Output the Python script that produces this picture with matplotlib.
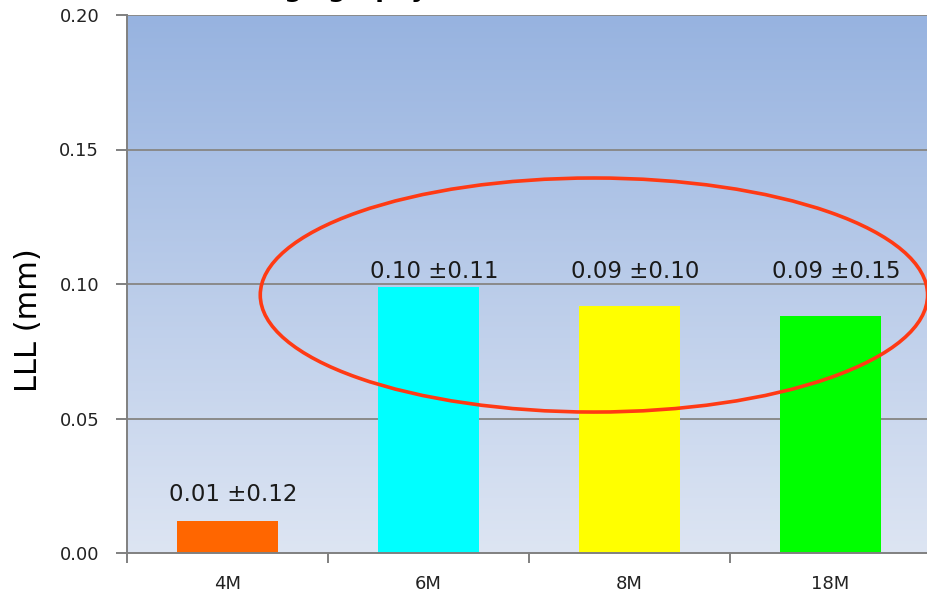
import numpy as np
import matplotlib
matplotlib.use("Agg")
import matplotlib.pyplot as plt
from matplotlib.patches import Ellipse
from matplotlib.colors import LinearSegmentedColormap

# late lumen loss per follow-up time point
groups = ["4M", "6M", "8M", "18M"]
lll_mean = [0.012, 0.099, 0.092, 0.088]
lll_sd = [0.12, 0.11, 0.10, 0.15]
bar_colors = ["#ff6600", "#00ffff", "#ffff00", "#00ff00"]

fig = plt.figure(figsize=(9.27, 5.96), dpi=100)
ax = fig.add_axes([127 / 927, 43 / 596, 804 / 927, 538 / 596])

x = np.arange(len(groups))
ax.set_xlim(-0.5, len(groups) - 0.5)
ax.set_ylim(0, 0.20)

# vertical blue-to-pale gradient behind the bars
grad = LinearSegmentedColormap.from_list("bg", ["#dde5f3", "#97b3e0"])
ax.imshow(np.linspace(0, 1, 256).reshape(-1, 1), cmap=grad, aspect="auto",
          extent=[-0.5, len(groups) - 0.5, 0, 0.20], origin="lower", zorder=0)

for yv in [0.05, 0.10, 0.15, 0.20]:
    ax.axhline(yv, color="#8a8a8a", lw=1.4, zorder=1)

ax.bar(x, lll_mean, width=0.5, color=bar_colors, zorder=2)

# labels of the circled groups share one baseline just above the 0.10 line
for i, (xi, m, s) in enumerate(zip(x, lll_mean, lll_sd)):
    ly = m + 0.0055 if i == 0 else 0.1005
    ax.text(xi + 0.03, ly, f"{m:.2f} \u00b1{s:.2f}", ha="center", va="bottom",
            fontsize=16.5, color="#1a1a1a", zorder=3)

# highlight the later follow-up groups
ax.add_patch(Ellipse((1.823, 0.0959), 3.32, 0.087, fill=False, edgecolor="#ff3a14",
                     lw=2.6, zorder=4, clip_on=False))

ax.set_yticks([0.00, 0.05, 0.10, 0.15, 0.20])
ax.set_yticklabels(["0.00", "0.05", "0.10", "0.15", "0.20"])
ax.set_xticks(x)
ax.set_xticklabels(groups)
ax.set_xticks(np.arange(-0.5, len(groups), 1.0), minor=True)
ax.tick_params(axis="x", which="major", length=0, pad=16, labelsize=13, labelcolor="#222222")
ax.tick_params(axis="x", which="minor", length=7, width=1.4, color="#808080")
ax.tick_params(axis="y", length=8, width=1.4, color="#808080", pad=12,
               labelsize=13, labelcolor="#222222")

for side in ["top", "right"]:
    ax.spines[side].set_visible(False)
for side in ["left", "bottom"]:
    ax.spines[side].set_color("#808080")
    ax.spines[side].set_linewidth(1.4)

ax.set_ylabel("LLL (mm)", fontsize=22)
ax.yaxis.set_label_coords(-0.104, 0.433)

fig.text(248 / 927, 599 / 596, "Angiography", fontsize=18, fontweight="bold",
         ha="left", va="baseline")

fig.savefig("out.png", dpi=100)
